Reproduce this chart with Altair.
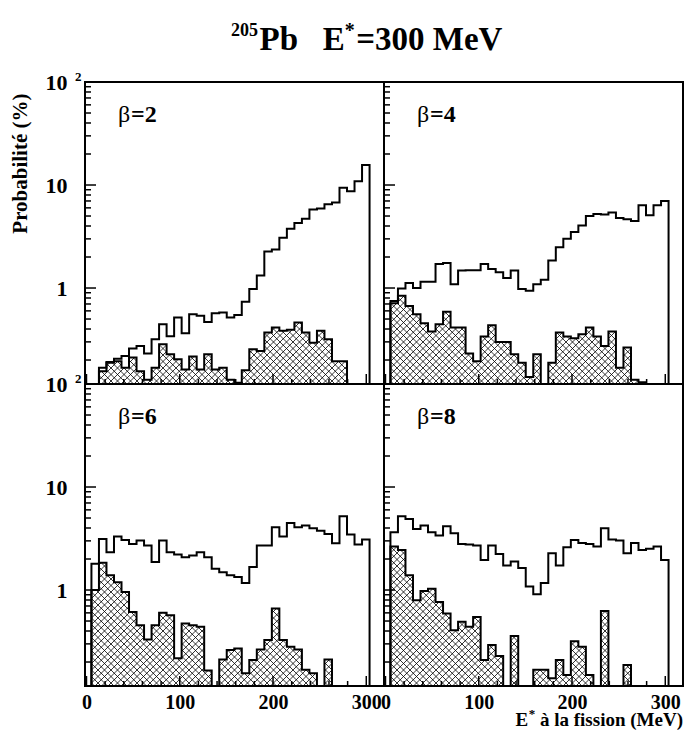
import math
import numpy as np
import pandas as pd
import altair as alt

# ---------------- data ----------------
BIN_START = 5.3      # MeV, left edge of the first bin
BIN_WIDTH = 8.06     # MeV
N_BINS = 37

# all fissions (open histogram), one value per bin (0 = empty bin)
OPEN_B2 = [0, 0.168, 0.191, 0.206, 0.219, 0.258, 0.274, 0.231, 0.318, 0.446, 0.340, 0.518,
           0.364, 0.557, 0.537, 0.469, 0.570, 0.579, 0.518, 0.546, 0.735, 0.977, 1.32, 2.26,
           2.37, 3.08, 3.77, 4.28, 4.71, 5.77, 5.90, 6.50, 6.75, 9.39, 8.70, 10.9, 15.6]
HATCH_B2 = [0, 0.156, 0.188, 0.195, 0.168, 0.211, 0.156, 0.129, 0.168, 0.284, 0.227, 0.203,
            0.162, 0.216, 0.162, 0.227, 0.162, 0.168, 0.129, 0.12, 0.159, 0.254, 0.245, 0.370,
            0.414, 0.384, 0.393, 0.463, 0.370, 0.295, 0.384, 0.318, 0.195, 0.195, 0, 0, 0]

OPEN_B4 = [0.75, 0.99, 1.12, 1.0, 1.15, 1.15, 1.71, 1.75, 1.09, 1.48, 1.49, 1.49, 1.71, 1.53,
           1.42, 1.25, 1.48, 0.98, 0.94, 1.09, 1.20, 1.85, 2.49, 3.01, 3.49, 4.05, 5.00, 5.24,
           5.16, 5.40, 4.78, 4.65, 4.47, 6.35, 5.08, 6.35, 7.01]
HATCH_B4 = [0.71, 0.84, 0.67, 0.557, 0.456, 0.378, 0.446, 0.587, 0.413, 0.413, 0.232, 0.195,
            0.338, 0.436, 0.299, 0.299, 0.227, 0.188, 0.137, 0.227, 0, 0.188, 0.370, 0.338,
            0.325, 0.356, 0.413, 0.338, 0.274, 0.378, 0.168, 0.264, 0.129, 0.122, 0, 0, 0]

OPEN_B6 = [1.80, 3.13, 2.33, 3.30, 3.06, 2.80, 3.02, 2.70, 1.87, 3.02, 2.33, 2.21, 2.08, 2.16,
           2.33, 2.08, 1.61, 1.49, 1.39, 1.34, 1.17, 1.67, 2.70, 2.70, 4.06, 3.30, 4.47, 4.06,
           4.22, 3.97, 3.77, 3.50, 2.84, 5.19, 3.45, 2.76, 3.09]
HATCH_B6 = [1.0, 1.84, 1.39, 1.19, 0.957, 0.612, 0.456, 0.331, 0.456, 0.600, 0.569, 0.217,
            0.473, 0.456, 0.439, 0.165, 0, 0.212, 0.261, 0.271, 0.156, 0.209, 0.265, 0.327,
            0.661, 0.327, 0.281, 0.265, 0.168, 0.156, 0, 0.212, 0, 0, 0, 0, 0]

OPEN_B8 = [3.63, 5.19, 4.89, 3.91, 4.22, 3.63, 3.38, 4.15, 3.56, 2.80, 2.76, 2.70, 1.96, 2.70,
           2.24, 1.73, 1.89, 1.64, 1.08, 0.91, 1.17, 2.28, 1.73, 2.60, 3.06, 2.86, 2.80, 2.64,
           3.97, 3.09, 3.02, 2.28, 2.86, 2.45, 2.51, 2.64, 1.96]
HATCH_B8 = [2.64, 2.45, 1.39, 0.794, 0.977, 1.03, 0.766, 0.590, 0.407, 0.491, 0.439, 0.548,
            0.209, 0.292, 0.229, 0, 0.357, 0, 0, 0.168, 0.168, 0.139, 0.209, 0.150, 0.319,
            0.281, 0.150, 0, 0.627, 0, 0, 0.187, 0, 0, 0, 0, 0]

PANEL_LABELS = ["2", "4", "6", "8"]
X_TICKS_MAJOR = [0, 100, 200, 300]
X_TICKS_MINOR = [20, 40, 60, 80, 120, 140, 160, 180, 220, 240, 260, 280]
Y_TICKS_MAJOR = [1, 10, 100]
Y_TICKS_MINOR = [0.2, 0.3, 0.4, 0.5, 0.6, 0.7, 0.8, 0.9, 2, 3, 4, 5, 6, 7, 8, 9,
                 20, 30, 40, 50, 60, 70, 80, 90]

# title pieces: text, font size, baseline offset (superscripts raised)
TITLE_PARTS = [("205", 18, -14), ("Pb", 33, 0), ("\u00a0\u00a0\u00a0", 33, 0), ("E", 33, 0),
               ("*", 20, -13), ("=300 MeV", 33, 0)]
Y_TITLE = "Probabilité (%)"
# x title pieces, right to left: text, font size, baseline offset
X_TITLE_PARTS = [("\u00a0à la fission (MeV)", 19, 0), ("*", 13, -8), ("E", 19, 0)]

# ---------------- geometry / style ----------------
W, H = 299, 302
XMIN, XMAX = -1.6, 319.0
YMIN, YMAX = 0.117, 100.0
LMIN, LMAX = math.log10(YMIN), math.log10(YMAX)
FONT = "Liberation Serif"
HATCH_PERIOD = 6.5
TITLE_X0 = 146          # left end of the title, relative to the first panel
TITLE_BASE = -32        # baseline of the title, relative to the first panel
X_TITLE_BASE = H + 40   # baseline of the x title, relative to the last panel
# advance widths (em) of Times/Liberation Serif Bold, used to chain text pieces
ADV = {"P": 0.611, "b": 0.556, "E": 0.667, "*": 0.5, "=": 0.570, "M": 0.944, "e": 0.444,
       "V": 0.722, " ": 0.25, "\u00a0": 0.25, "à": 0.5, "l": 0.278, "a": 0.5, "f": 0.333,
       "i": 0.278, "s": 0.389, "o": 0.5, "n": 0.556, "(": 0.333, ")": 0.333}

EDGES = BIN_START + BIN_WIDTH * np.arange(N_BINS + 1)


def x_of_px(p):
    return XMIN + p / W * (XMAX - XMIN)


def px_of_x(x):
    return (x - XMIN) / (XMAX - XMIN) * W


def v_of_py(p):
    return 10 ** (LMAX - p / H * (LMAX - LMIN))


def py_of_v(v):
    return (LMAX - math.log10(v)) / (LMAX - LMIN) * H


def nz_range(values):
    nz = [i for i, v in enumerate(values) if v > 0]
    return nz[0], nz[-1]


def step_rows(values):
    a, b = nz_range(values)
    pts = [(EDGES[a], YMIN)]
    for i in range(a, b + 1):
        pts.append((EDGES[i], values[i] if values[i] > 0 else YMIN))
    pts.append((EDGES[b + 1], pts[-1][1]))
    pts.append((EDGES[b + 1], YMIN))
    return pd.DataFrame({"x": [p[0] for p in pts], "y": [p[1] for p in pts],
                         "k": list(range(len(pts)))})


def mask_rows(values, top):
    """White area covering everything above the hatched histogram (hides the hatch lines)."""
    a, b = nz_range(values)
    floor = v_of_py(H - 1)
    ext = x_of_px(2.0) - x_of_px(0.0)
    xs, ys = [EDGES[a] - ext], [floor]
    for i in range(a, b + 1):
        xs.append(EDGES[i])
        ys.append(values[i] if values[i] > 0 else floor)
    xs.append(EDGES[b + 1])
    ys.append(floor)
    xs.append(EDGES[b + 1] + ext)
    ys.append(floor)
    return pd.DataFrame({"x": xs, "y": ys, "top": [top] * len(xs)})


def hatch_rows(values, top_py):
    a, b = nz_range(values)
    xa, xb = px_of_x(EDGES[a]), px_of_x(EDGES[b + 1])
    ya, yb = top_py + 1.5, H - 1.0
    p = HATCH_PERIOD
    segs = []
    for k in range(math.floor((ya - xb) / p) - 1, math.ceil((yb - xa) / p) + 2):
        c = k * p                      # y = x + c
        x0, x1 = max(xa, ya - c), min(xb, yb - c)
        if x1 > x0:
            segs.append((x0, x0 + c, x1, x1 + c))
    for k in range(math.floor((xa + ya) / p) - 1, math.ceil((xb + yb) / p) + 2):
        c = k * p                      # y = c - x
        x0, x1 = max(xa, c - yb), min(xb, c - ya)
        if x1 > x0:
            segs.append((x0, c - x0, x1, c - x1))
    return pd.DataFrame({
        "x": [x_of_px(s[0]) for s in segs], "y": [v_of_py(s[1]) for s in segs],
        "x2": [x_of_px(s[2]) for s in segs], "y2": [v_of_py(s[3]) for s in segs],
    })


def text_layer(t, x, y, size, bold=True, align="left", baseline="alphabetic"):
    kw = dict(font=FONT, fontSize=size, align=align, baseline=baseline, color="black")
    if bold:
        kw["fontWeight"] = "bold"
    return alt.Chart(pd.DataFrame({"t": [t]})).mark_text(**kw).encode(
        text="t:N", x=alt.value(x), y=alt.value(y))


def text_width(text, size):
    return size * sum(ADV.get(c, 0.5) for c in text)


def title_layers():
    out, x = [], TITLE_X0
    for text, size, dy in TITLE_PARTS:
        out.append(text_layer(text, x, TITLE_BASE + dy, size))
        x += text_width(text, size)
        if size < 30:
            x += 1.5
    return out


def x_title_layers():
    out, x = [], W
    for text, size, dy in X_TITLE_PARTS:
        out.append(text_layer(text, x, X_TITLE_BASE + dy, size, align="right"))
        x -= text_width(text, size) + (0.5 if size < 15 else 0)
    return out


def panel(label, open_vals, hatch_vals, left, bottom, y_title=False, extra=()):
    xs = alt.Scale(domain=[XMIN, XMAX], nice=False, zero=False)
    ys = alt.Scale(type="log", domain=[YMIN, YMAX], nice=False)

    if bottom:
        x_axis = alt.Axis(values=X_TICKS_MAJOR, ticks=False, tickSize=0, domain=False, grid=False,
                          labelFont=FONT, labelFontSize=20, labelFontWeight="bold",
                          labelColor="black", labelPadding=6, labelFlush=False,
                          labelOverlap=False, format="d", title=None)
    else:
        x_axis = None
    if left:
        ykw = dict(values=Y_TICKS_MAJOR, ticks=False, tickSize=0, domain=False, grid=False,
                   labelFont=FONT, labelFontSize=22, labelFontWeight="bold", labelColor="black",
                   labelPadding=18, labelFlush=False, labelOverlap=False,
                   labelExpr="datum.value >= 10 ? '10' : '1'", title=None)
        if y_title:
            ykw.update(title=Y_TITLE, titleFont=FONT, titleFontSize=21, titleFontWeight="bold",
                       titleColor="black", titleAnchor="end", titlePadding=15, titleY=11)
        y_axis = alt.Axis(**ykw)
    else:
        y_axis = None

    def X(field="x"):
        return alt.X(f"{field}:Q", scale=xs, axis=x_axis)

    def Y(field="y"):
        return alt.Y(f"{field}:Q", scale=ys, axis=y_axis)

    hmax = max(hatch_vals)
    top_py = py_of_v(hmax) - 5
    top_v = v_of_py(top_py)

    layers = [
        alt.Chart(hatch_rows(hatch_vals, top_py)).mark_rule(color="black", strokeWidth=0.8).encode(
            x=X(), y=Y(), x2="x2:Q", y2="y2:Q"),
        alt.Chart(mask_rows(hatch_vals, top_v)).mark_area(
            interpolate="step-after", color="white", opacity=1).encode(
            x=X(), y=Y(), y2="top:Q"),
        alt.Chart(step_rows(hatch_vals)).mark_line(
            interpolate="step-after", color="black", strokeWidth=2).encode(
            x=X(), y=Y(), order="k:Q"),
        alt.Chart(step_rows(open_vals)).mark_line(
            interpolate="step-after", color="black", strokeWidth=2).encode(
            x=X(), y=Y(), order="k:Q"),
        alt.Chart(pd.DataFrame({"x": X_TICKS_MAJOR})).mark_rule(color="black", strokeWidth=1.5).encode(
            x=X(), y=alt.value(H), y2=alt.value(H - 10)),
        alt.Chart(pd.DataFrame({"x": X_TICKS_MINOR})).mark_rule(color="black", strokeWidth=1.5).encode(
            x=X(), y=alt.value(H), y2=alt.value(H - 5)),
        alt.Chart(pd.DataFrame({"y": Y_TICKS_MAJOR})).mark_rule(color="black", strokeWidth=1.5).encode(
            y=Y(), x=alt.value(0), x2=alt.value(11)),
        alt.Chart(pd.DataFrame({"y": Y_TICKS_MINOR})).mark_rule(color="black", strokeWidth=1.5).encode(
            y=Y(), x=alt.value(0), x2=alt.value(6)),
        text_layer("β", 33, 40, 24, bold=False),
        text_layer("=" + label, 46, 40, 24),
    ]
    if left:
        layers.append(text_layer("2", -10, -5, 13, baseline="middle"))
    layers.extend(extra)
    return alt.layer(*layers).properties(width=W, height=H)


p2 = panel(PANEL_LABELS[0], OPEN_B2, HATCH_B2, left=True, bottom=False, y_title=True,
           extra=title_layers())
p4 = panel(PANEL_LABELS[1], OPEN_B4, HATCH_B4, left=False, bottom=False)
p6 = panel(PANEL_LABELS[2], OPEN_B6, HATCH_B6, left=True, bottom=True)
p8 = panel(PANEL_LABELS[3], OPEN_B8, HATCH_B8, left=False, bottom=True,
           extra=x_title_layers())

chart = alt.concat(p2, p4, p6, p8, columns=2, spacing=0, bounds="flush").properties(
    padding={"left": 0, "top": 12, "right": 0, "bottom": 0},
).configure_view(stroke="black", strokeWidth=2)

chart.save("out.html", embed_options={"renderer": "svg", "actions": False})
